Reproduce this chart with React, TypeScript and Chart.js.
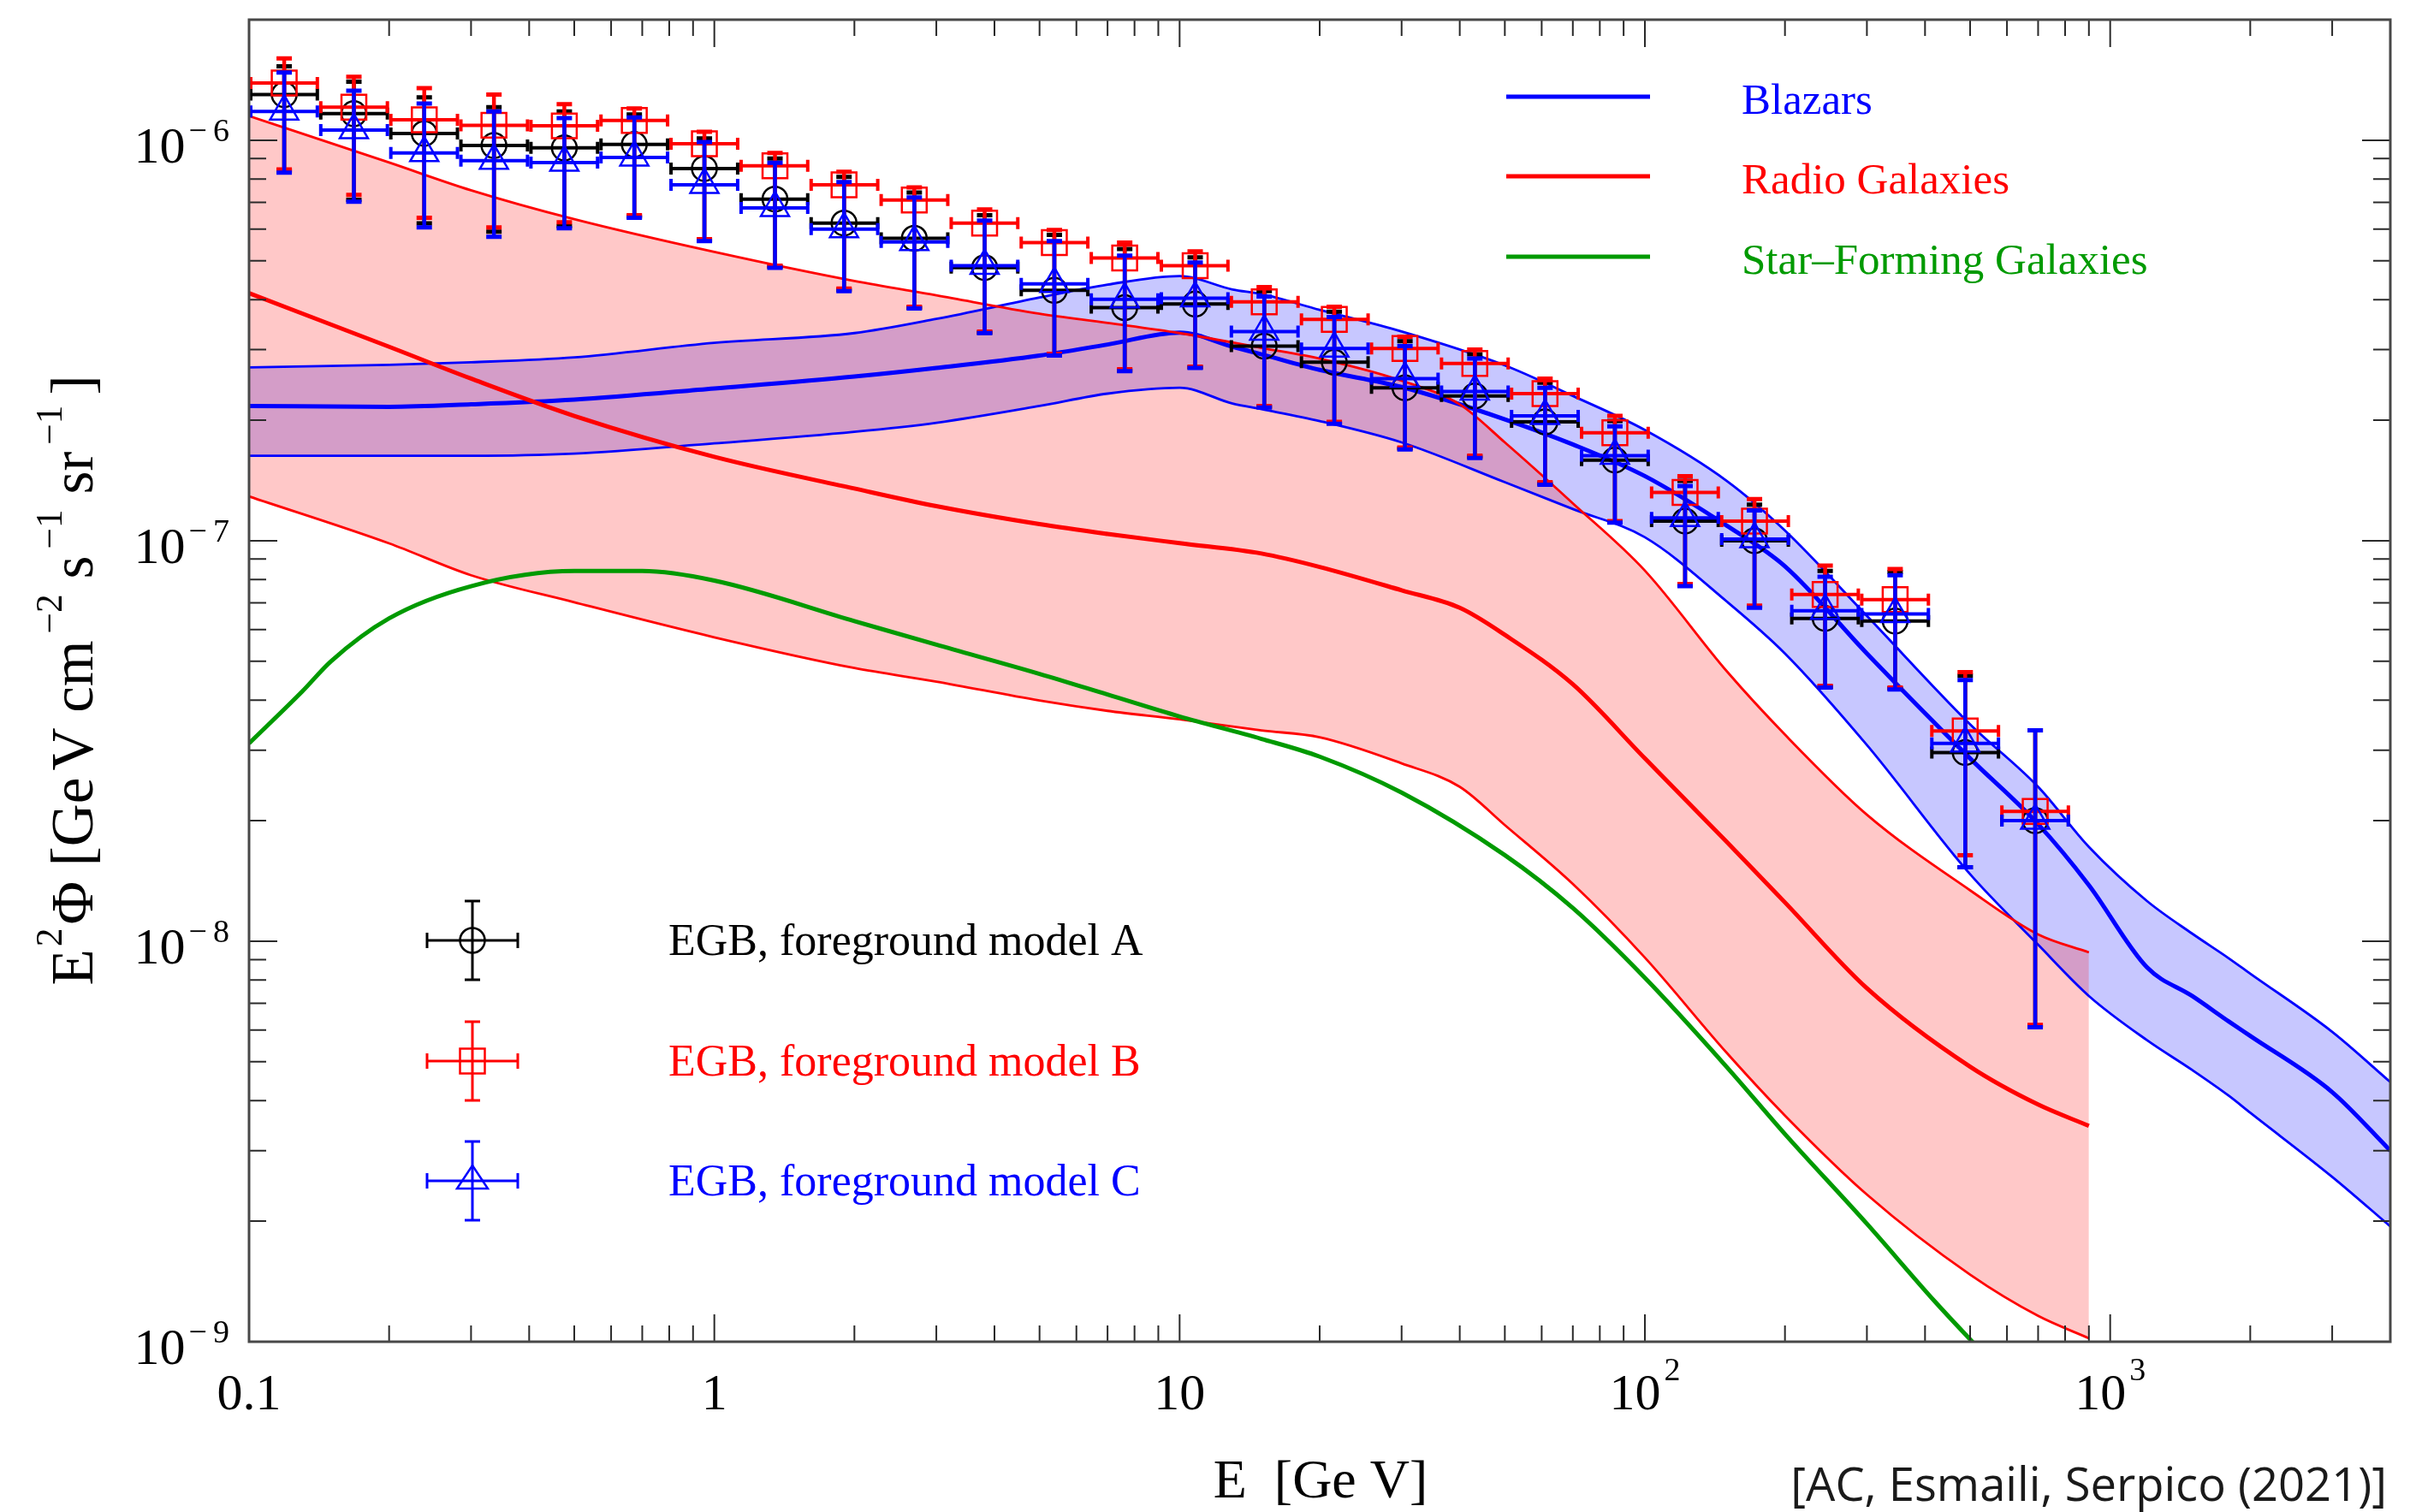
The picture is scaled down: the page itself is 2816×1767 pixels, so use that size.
import { useEffect, useRef } from 'react';
import { Chart, registerables } from 'chart.js';

Chart.register(...registerables);

const W = 2816;
const H = 1767;
const SERIF = '"Liberation Serif", "Times New Roman", serif';

// ---- Model predictions, E [GeV] vs E^2 Phi [GeV cm^-2 s^-1 sr^-1] ----
const BLAZAR_E = [0.1, 0.2, 0.3, 0.5, 1, 2, 3, 5, 7, 10, 13, 15, 20, 30, 50, 70, 100, 150, 200, 300, 500, 700, 900, 1200, 1500, 1800, 2000, 3000, 4000];
const BLAZAR_MID = [2.17e-7, 2.16e-7, 2.19e-7, 2.25e-7, 2.40e-7, 2.57e-7, 2.70e-7, 2.90e-7, 3.09e-7, 3.31e-7, 3.05e-7, 2.92e-7, 2.67e-7, 2.42e-7, 2.01e-7, 1.74e-7, 1.45e-7, 1.09e-7, 8.63e-8, 5.23e-8, 2.86e-8, 1.96e-8, 1.38e-8, 8.6e-9, 7.3e-9, 6.3e-9, 5.8e-9, 4.2e-9, 3.0e-9];
const BLAZAR_HIGH = [2.71e-7, 2.75e-7, 2.79e-7, 2.87e-7, 3.12e-7, 3.30e-7, 3.58e-7, 4.05e-7, 4.36e-7, 4.58e-7, 4.24e-7, 4.13e-7, 3.77e-7, 3.33e-7, 2.74e-7, 2.30e-7, 1.89e-7, 1.41e-7, 1.06e-7, 6.49e-8, 3.48e-8, 2.43e-8, 1.72e-8, 1.26e-8, 1.045e-8, 9.06e-9, 8.3e-9, 5.94e-9, 4.45e-9];
const BLAZAR_LOW = [1.63e-7, 1.63e-7, 1.63e-7, 1.65e-7, 1.75e-7, 1.87e-7, 1.97e-7, 2.17e-7, 2.33e-7, 2.41e-7, 2.20e-7, 2.13e-7, 1.99e-7, 1.76e-7, 1.40e-7, 1.20e-7, 1.02e-7, 7.05e-8, 5.23e-8, 3.09e-8, 1.47e-8, 9.8e-9, 7.3e-9, 5.66e-9, 4.77e-9, 4.11e-9, 3.73e-9, 2.58e-9, 1.94e-9];

const RADIO_E = [0.1, 0.2, 0.3, 0.5, 1, 2, 3, 5, 7, 10, 15, 20, 30, 40, 50, 70, 100, 150, 200, 300, 500, 700, 900];
const RADIO_MID = [4.15e-7, 3.05e-7, 2.54e-7, 2.05e-7, 1.62e-7, 1.35e-7, 1.22e-7, 1.10e-7, 1.04e-7, 9.86e-8, 9.29e-8, 8.6e-8, 7.52e-8, 6.8e-8, 5.82e-8, 4.38e-8, 2.86e-8, 1.77e-8, 1.25e-8, 7.63e-9, 4.86e-9, 3.91e-9, 3.46e-9];
const RADIO_HIGH = [1.15e-6, 8.8e-7, 7.5e-7, 6.35e-7, 5.26e-7, 4.45e-7, 4.1e-7, 3.69e-7, 3.5e-7, 3.3e-7, 3.03e-7, 2.85e-7, 2.51e-7, 2.19e-7, 1.76e-7, 1.24e-7, 8.42e-8, 4.72e-8, 3.28e-8, 2.07e-8, 1.34e-8, 1.04e-8, 9.38e-9];
const RADIO_LOW = [1.29e-7, 9.85e-8, 8.2e-8, 7.02e-8, 5.74e-8, 4.81e-8, 4.45e-8, 3.99e-8, 3.76e-8, 3.58e-8, 3.36e-8, 3.23e-8, 2.78e-8, 2.43e-8, 1.95e-8, 1.39e-8, 9.1e-9, 5.26e-9, 3.67e-9, 2.33e-9, 1.47e-9, 1.16e-9, 1.02e-9];

const SFG_E = [0.1, 0.13, 0.15, 0.2, 0.3, 0.5, 0.7, 1, 2, 3, 5, 7, 10, 15, 20, 30, 50, 70, 100, 150, 200, 300, 420, 520];
const SFG = [3.12e-8, 4.2e-8, 5.0e-8, 6.4e-8, 7.7e-8, 8.4e-8, 8.4e-8, 7.95e-8, 6.3e-8, 5.5e-8, 4.65e-8, 4.13e-8, 3.64e-8, 3.2e-8, 2.89e-8, 2.35e-8, 1.64e-8, 1.21e-8, 8.1e-9, 4.85e-9, 3.3e-9, 1.97e-9, 1.26e-9, 0.965e-9];

// ---- EGB measurement: energy bins [GeV] ----
const BIN_E = [0.119, 0.168, 0.238, 0.336, 0.476, 0.673, 0.952, 1.35, 1.90, 2.69, 3.81, 5.38, 7.62, 10.8, 15.2, 21.5, 30.5, 43.1, 61.0, 86.2, 122, 172, 244, 345, 488, 690];
const BIN_LO = [0.1, 0.1414, 0.2, 0.2829, 0.4001, 0.5659, 0.8003, 1.132, 1.601, 2.264, 3.202, 4.528, 6.404, 9.058, 12.81, 18.12, 25.63, 36.24, 51.26, 72.49, 102.5, 145.0, 205.1, 290.0, 410.2, 580.2];
const BIN_HI = [0.1414, 0.2, 0.2829, 0.4001, 0.5659, 0.8003, 1.132, 1.601, 2.264, 3.202, 4.528, 6.404, 9.058, 12.81, 18.12, 25.63, 36.24, 51.26, 72.49, 102.5, 145.0, 205.1, 290.0, 410.2, 580.2, 820.0];

// foreground model A
const EGB_A = [1.30e-6, 1.165e-6, 1.04e-6, 9.7e-7, 9.57e-7, 9.76e-7, 8.5e-7, 7.13e-7, 6.21e-7, 5.69e-7, 4.81e-7, 4.22e-7, 3.82e-7, 3.90e-7, 3.06e-7, 2.79e-7, 2.41e-7, 2.30e-7, 1.98e-7, 1.59e-7, 1.12e-7, 1.00e-7, 6.4e-8, 6.3e-8, 2.96e-8, 2.0e-8];
const EGB_A_HI = [1.53e-6, 1.40e-6, 1.28e-6, 1.21e-6, 1.18e-6, 1.16e-6, 1.01e-6, 9.0e-7, 8.1e-7, 7.4e-7, 6.5e-7, 5.8e-7, 5.35e-7, 5.1e-7, 4.2e-7, 3.73e-7, 3.15e-7, 2.92e-7, 2.48e-7, 1.99e-7, 1.41e-7, 1.23e-7, 8.4e-8, 8.35e-8, 4.6e-8, 3.36e-8];
const EGB_A_LO = [8.4e-7, 7.1e-7, 6.2e-7, 5.91e-7, 6.1e-7, 6.45e-7, 5.63e-7, 4.83e-7, 4.23e-7, 3.82e-7, 3.31e-7, 2.91e-7, 2.66e-7, 2.71e-7, 2.16e-7, 1.97e-7, 1.70e-7, 1.62e-7, 1.39e-7, 1.115e-7, 7.75e-8, 6.85e-8, 4.32e-8, 4.28e-8, 1.53e-8, 6.15e-9];
// foreground model B
const EGB_B = [1.39e-6, 1.21e-6, 1.125e-6, 1.09e-6, 1.086e-6, 1.12e-6, 9.8e-7, 8.63e-7, 7.74e-7, 7.09e-7, 6.21e-7, 5.55e-7, 5.08e-7, 4.86e-7, 3.95e-7, 3.57e-7, 3.02e-7, 2.77e-7, 2.33e-7, 1.86e-7, 1.32e-7, 1.12e-7, 7.34e-8, 7.13e-8, 3.35e-8, 2.11e-8];
const EGB_B_HI = [1.60e-6, 1.44e-6, 1.35e-6, 1.30e-6, 1.23e-6, 1.20e-6, 1.05e-6, 9.3e-7, 8.34e-7, 7.63e-7, 6.72e-7, 5.97e-7, 5.55e-7, 5.28e-7, 4.3e-7, 3.84e-7, 3.23e-7, 3.0e-7, 2.54e-7, 2.05e-7, 1.45e-7, 1.27e-7, 8.67e-8, 8.5e-8, 4.7e-8, 3.36e-8];
const EGB_B_LO = [8.46e-7, 7.3e-7, 6.4e-7, 6.06e-7, 6.24e-7, 6.5e-7, 5.66e-7, 4.86e-7, 4.26e-7, 3.84e-7, 3.33e-7, 2.93e-7, 2.68e-7, 2.72e-7, 2.17e-7, 1.98e-7, 1.71e-7, 1.63e-7, 1.40e-7, 1.12e-7, 7.8e-8, 6.89e-8, 4.34e-8, 4.3e-8, 1.64e-8, 6.18e-9];
// foreground model C
const EGB_C = [1.18e-6, 1.06e-6, 9.29e-7, 8.89e-7, 8.8e-7, 9.06e-7, 7.74e-7, 6.78e-7, 6.0e-7, 5.57e-7, 4.86e-7, 4.38e-7, 4.01e-7, 4.03e-7, 3.33e-7, 3.02e-7, 2.54e-7, 2.36e-7, 2.05e-7, 1.63e-7, 1.14e-7, 1.01e-7, 6.69e-8, 6.56e-8, 3.12e-8, 2.0e-8];
const EGB_C_HI = [1.476e-6, 1.33e-6, 1.235e-6, 1.18e-6, 1.136e-6, 1.14e-6, 9.9e-7, 8.78e-7, 7.86e-7, 7.2e-7, 6.3e-7, 5.6e-7, 5.15e-7, 4.95e-7, 4.07e-7, 3.62e-7, 3.06e-7, 2.85e-7, 2.41e-7, 1.93e-7, 1.37e-7, 1.19e-7, 8.13e-8, 8.2e-8, 4.49e-8, 3.36e-8];
const EGB_C_LO = [8.3e-7, 7.02e-7, 6.06e-7, 5.74e-7, 6.03e-7, 6.4e-7, 5.6e-7, 4.8e-7, 4.2e-7, 3.8e-7, 3.3e-7, 2.9e-7, 2.65e-7, 2.7e-7, 2.15e-7, 1.96e-7, 1.69e-7, 1.61e-7, 1.38e-7, 1.11e-7, 7.7e-8, 6.8e-8, 4.3e-8, 4.25e-8, 1.53e-8, 6.1e-9];

// ---- Axes ----
const X_MIN = 0.1;
const X_MAX = 4000;
const Y_MIN = 1e-9;
const Y_MAX = 2e-6;
const X_TICKS = [0.1, 1, 10, 100, 1000];
const X_TICK_BASE = ['0.1', '1', '10', '10', '10'];
const X_TICK_EXP = ['', '', '', '2', '3'];
const Y_TICKS = [1e-9, 1e-8, 1e-7, 1e-6];
const Y_TICK_EXP = ['−9', '−8', '−7', '−6'];

const MODEL_LABELS = ['Blazars', 'Radio Galaxies', 'Star–Forming Galaxies'];
const DATA_LABELS = ['EGB, foreground model A', 'EGB, foreground model B', 'EGB, foreground model C'];
const CREDIT = '[AC, Esmaili, Serpico (2021)]';

const BLUE = '#0000ff';
const RED = '#ff0000';
const GREEN = '#009a00';
const BLACK = '#000000';

const pts = (xs: number[], ys: number[]) => xs.map((x, i) => ({ x, y: ys[i] }));

const curve = (label: string, xs: number[], ys: number[], color: string, width: number, order: number, extra: any = {}) => ({
  label,
  data: pts(xs, ys),
  borderColor: color,
  borderWidth: width,
  pointRadius: 0,
  pointHoverRadius: 0,
  fill: false,
  cubicInterpolationMode: 'monotone',
  order,
  ...extra,
});

const egb = (label: string, ys: number[], hi: number[], lo: number[], color: string, style: string, radius: number, order: number) => ({
  label,
  data: pts(BIN_E, ys),
  showLine: false,
  borderColor: color,
  pointStyle: style,
  pointRadius: radius,
  pointHoverRadius: radius,
  pointBorderWidth: 2.5,
  pointBorderColor: color,
  pointBackgroundColor: 'rgba(0,0,0,0)',
  errHi: hi,
  errLo: lo,
  order,
});

// Error bars (energy bin width + flux uncertainty), drawn just before each EGB series' markers
const errorBarPlugin = {
  id: 'egbErrorBars',
  beforeDatasetDraw(chart: any, args: any) {
    const ds = chart.data.datasets[args.index];
    if (!ds.errHi) return;
    const ctx = chart.ctx;
    const xs = chart.scales.x;
    const ys = chart.scales.y;
    ctx.save();
    ctx.strokeStyle = ds.borderColor;
    ctx.lineCap = 'butt';
    ds.data.forEach((p: any, i: number) => {
      const xc = xs.getPixelForValue(p.x);
      const xl = xs.getPixelForValue(BIN_LO[i]);
      const xr = xs.getPixelForValue(BIN_HI[i]);
      const yv = ys.getPixelForValue(p.y);
      const yh = ys.getPixelForValue(ds.errHi[i]);
      const yl = ys.getPixelForValue(ds.errLo[i]);
      ctx.lineWidth = 4;
      ctx.beginPath();
      ctx.moveTo(xl, yv);
      ctx.lineTo(xr, yv);
      ctx.moveTo(xl + 2, yv - 7);
      ctx.lineTo(xl + 2, yv + 7);
      ctx.moveTo(xr - 2, yv - 7);
      ctx.lineTo(xr - 2, yv + 7);
      ctx.stroke();
      ctx.lineWidth = 4.5;
      ctx.beginPath();
      ctx.moveTo(xc, yh);
      ctx.lineTo(xc, yl);
      ctx.stroke();
      ctx.lineWidth = 5;
      ctx.beginPath();
      ctx.moveTo(xc - 9, yh);
      ctx.lineTo(xc + 9, yh);
      ctx.moveTo(xc - 9, yl);
      ctx.lineTo(xc + 9, yl);
      ctx.stroke();
    });
    ctx.restore();
  },
};

function drawPower(ctx: any, base: string, exp: string, x: number, y: number, align: string, rise: number) {
  const fb = `60px ${SERIF}`;
  const fs = `38px ${SERIF}`;
  ctx.font = fb;
  const wb = ctx.measureText(base).width;
  ctx.font = fs;
  const hasMinus = exp.startsWith('−');
  const digits = exp.replace('−', '');
  const wm = hasMinus ? ctx.measureText('−').width + 7 : 0;
  const wd = digits ? ctx.measureText(digits).width : 0;
  const we = exp ? 4 + wm + wd : 0;
  const total = wb + we;
  let x0 = x;
  if (align === 'center') x0 = x - total / 2;
  if (align === 'right') x0 = x - total;
  ctx.textAlign = 'left';
  ctx.textBaseline = 'alphabetic';
  ctx.font = fb;
  ctx.fillText(base, x0, y);
  if (exp) {
    ctx.font = fs;
    let xx = x0 + wb + 4;
    if (hasMinus) {
      ctx.fillText('−', xx, y - rise);
      xx += wm;
    }
    ctx.fillText(digits, xx, y - rise);
  }
}

function drawYTitle(ctx: any) {
  // pieces: [text, superscript?, gap before]
  const pieces: [string, boolean, number][] = [
    ['E', false, 0], ['2', true, 3], ['Φ', false, 4], ['[Ge', false, 18], ['V', false, 8],
    ['cm', false, 18], ['−2', true, 8], ['s', false, 18], ['−1', true, 8], ['sr', false, 18],
    ['−1', true, 8], [']', false, 12],
  ];
  const measure = (k: number) => {
    let w = 0;
    pieces.forEach(([t, sup, gap]) => {
      ctx.font = `${(sup ? 44 : 70) * k}px ${SERIF}`;
      w += gap * k + ctx.measureText(t).width;
    });
    return w;
  };
  const k = 713 / measure(1);
  ctx.save();
  ctx.translate(108, 795);
  ctx.rotate(-Math.PI / 2);
  ctx.fillStyle = BLACK;
  ctx.textAlign = 'left';
  ctx.textBaseline = 'alphabetic';
  let x = -measure(k) / 2;
  pieces.forEach(([t, sup, gap]) => {
    x += gap * k;
    ctx.font = `${(sup ? 44 : 70) * k}px ${SERIF}`;
    ctx.fillText(t, x, sup ? -36 * k : 0);
    x += ctx.measureText(t).width;
  });
  ctx.restore();
}

function drawDataGlyph(ctx: any, cx: number, cy: number, color: string, kind: string) {
  ctx.save();
  ctx.strokeStyle = color;
  ctx.lineWidth = 3;
  ctx.beginPath();
  ctx.moveTo(cx - 53, cy);
  ctx.lineTo(cx + 53, cy);
  ctx.moveTo(cx - 53, cy - 9);
  ctx.lineTo(cx - 53, cy + 9);
  ctx.moveTo(cx + 53, cy - 9);
  ctx.lineTo(cx + 53, cy + 9);
  ctx.moveTo(cx, cy - 46);
  ctx.lineTo(cx, cy + 46);
  ctx.moveTo(cx - 9, cy - 46);
  ctx.lineTo(cx + 9, cy - 46);
  ctx.moveTo(cx - 9, cy + 46);
  ctx.lineTo(cx + 9, cy + 46);
  ctx.stroke();
  ctx.lineWidth = 2.5;
  ctx.beginPath();
  if (kind === 'circle') {
    ctx.arc(cx, cy, 14.5, 0, Math.PI * 2);
  } else if (kind === 'rect') {
    ctx.rect(cx - 14.5, cy - 14.5, 29, 29);
  } else {
    ctx.moveTo(cx, cy - 18);
    ctx.lineTo(cx + 18, cy + 9);
    ctx.lineTo(cx - 18, cy + 9);
    ctx.closePath();
  }
  ctx.stroke();
  ctx.restore();
}

const decorPlugin = {
  id: 'egbDecor',
  afterDraw(chart: any) {
    const ctx = chart.ctx;
    const xs = chart.scales.x;
    const ys = chart.scales.y;
    const a = chart.chartArea;
    ctx.save();

    // inward ticks on all four sides
    ctx.strokeStyle = '#2a2a2a';
    ctx.lineWidth = 2;
    ctx.beginPath();
    for (let e = -1; e <= 3; e++) {
      for (let m = 1; m <= 9; m++) {
        const v = m * Math.pow(10, e);
        if (v <= X_MIN * 1.001 || v >= X_MAX * 0.999) continue;
        const px = xs.getPixelForValue(v);
        const len = m === 1 ? 32 : 19;
        ctx.moveTo(px, a.bottom);
        ctx.lineTo(px, a.bottom - len);
        ctx.moveTo(px, a.top);
        ctx.lineTo(px, a.top + len);
      }
    }
    for (let e = -9; e <= -6; e++) {
      for (let m = 1; m <= 9; m++) {
        const v = m * Math.pow(10, e);
        if (v <= Y_MIN * 1.001 || v >= Y_MAX * 0.999) continue;
        const py = ys.getPixelForValue(v);
        const len = m === 1 ? 33 : 20;
        ctx.moveTo(a.left, py);
        ctx.lineTo(a.left + len, py);
        ctx.moveTo(a.right, py);
        ctx.lineTo(a.right - len, py);
      }
    }
    ctx.stroke();

    // frame
    ctx.strokeStyle = '#484848';
    ctx.lineWidth = 3;
    ctx.strokeRect(a.left, a.top, a.right - a.left, a.bottom - a.top);

    // tick labels
    ctx.fillStyle = BLACK;
    Y_TICKS.forEach((v, i) => {
      drawPower(ctx, '10', Y_TICK_EXP[i], 268, ys.getPixelForValue(v) + 26, 'right', 25);
    });
    X_TICKS.forEach((v, i) => {
      drawPower(ctx, X_TICK_BASE[i], X_TICK_EXP[i], xs.getPixelForValue(v), 1647, 'center', 34);
    });

    // axis titles
    drawYTitle(ctx);
    ctx.font = `64px ${SERIF}`;
    ctx.textAlign = 'center';
    ctx.fillStyle = BLACK;
    ctx.fillText('E  [Ge V]', 1543, 1750);

    // model legend (top right)
    const modelColors = [BLUE, RED, GREEN];
    const legendY = [113, 206, 300];
    MODEL_LABELS.forEach((label, i) => {
      ctx.strokeStyle = modelColors[i];
      ctx.lineWidth = 5;
      ctx.beginPath();
      ctx.moveTo(1760, legendY[i]);
      ctx.lineTo(1928, legendY[i]);
      ctx.stroke();
      ctx.fillStyle = modelColors[i];
      ctx.font = `51px ${SERIF}`;
      ctx.textAlign = 'left';
      ctx.fillText(label, 2035, legendY[i] + 20);
    });

    // data legend (bottom left)
    const dataColors = [BLACK, RED, BLUE];
    const dataKinds = ['circle', 'rect', 'triangle'];
    const rowY = [1099, 1240, 1380];
    DATA_LABELS.forEach((label, i) => {
      drawDataGlyph(ctx, 552, rowY[i], dataColors[i], dataKinds[i]);
      ctx.fillStyle = dataColors[i];
      ctx.font = `52px ${SERIF}`;
      ctx.textAlign = 'left';
      ctx.fillText(label, 781, rowY[i] + 17);
    });

    // credit line
    const fam = '"Open Sans", "DejaVu Sans", sans-serif';
    ctx.font = `50px ${fam}`;
    const cs = 50 * 697 / ctx.measureText(CREDIT).width;
    ctx.font = `${cs}px ${fam}`;
    ctx.fillStyle = '#1a1a1a';
    ctx.textAlign = 'right';
    ctx.fillText(CREDIT, 2789, 1754);

    ctx.restore();
  },
};

export default function App() {
  const canvasRef = useRef<HTMLCanvasElement | null>(null);

  useEffect(() => {
    const canvas = canvasRef.current;
    if (!canvas) return;
    const chart = new Chart(canvas, {
      type: 'line',
      data: {
        datasets: [
          curve('Blazars (upper)', BLAZAR_E, BLAZAR_HIGH, BLUE, 2.8, 12, { fill: 1, backgroundColor: 'rgba(0,0,255,0.22)' }),
          curve('Blazars (lower)', BLAZAR_E, BLAZAR_LOW, BLUE, 2.8, 11),
          curve('Blazars', BLAZAR_E, BLAZAR_MID, BLUE, 5, 10),
          curve('Radio Galaxies (upper)', RADIO_E, RADIO_HIGH, RED, 2.8, 9, { fill: 4, backgroundColor: 'rgba(255,0,0,0.215)' }),
          curve('Radio Galaxies (lower)', RADIO_E, RADIO_LOW, RED, 2.8, 8),
          curve('Radio Galaxies', RADIO_E, RADIO_MID, RED, 5, 7),
          curve('Star–Forming Galaxies', SFG_E, SFG, GREEN, 5, 6),
          egb(DATA_LABELS[0], EGB_A, EGB_A_HI, EGB_A_LO, BLACK, 'circle', 14.5, 3),
          egb(DATA_LABELS[1], EGB_B, EGB_B_HI, EGB_B_LO, RED, 'rect', 20.5, 2),
          egb(DATA_LABELS[2], EGB_C, EGB_C_HI, EGB_C_LO, BLUE, 'triangle', 19, 1),
        ] as any,
      },
      options: {
        responsive: false,
        devicePixelRatio: 1,
        animation: false,
        events: [],
        layout: { padding: { left: 291, right: 18, top: 19, bottom: 199 } },
        scales: {
          x: { type: 'logarithmic', min: X_MIN, max: X_MAX, display: false },
          y: { type: 'logarithmic', min: Y_MIN, max: Y_MAX, display: false },
        },
        plugins: {
          legend: { display: false },
          tooltip: { enabled: false },
          filler: { drawTime: 'beforeDatasetsDraw' },
        },
      } as any,
      plugins: [errorBarPlugin, decorPlugin],
    });
    return () => chart.destroy();
  }, []);

  return (
    <div style={{ position: 'fixed', left: 0, top: 0, width: W, height: H, background: '#ffffff' }}>
      <canvas ref={canvasRef} width={W} height={H} style={{ display: 'block', width: W, height: H }} />
    </div>
  );
}
